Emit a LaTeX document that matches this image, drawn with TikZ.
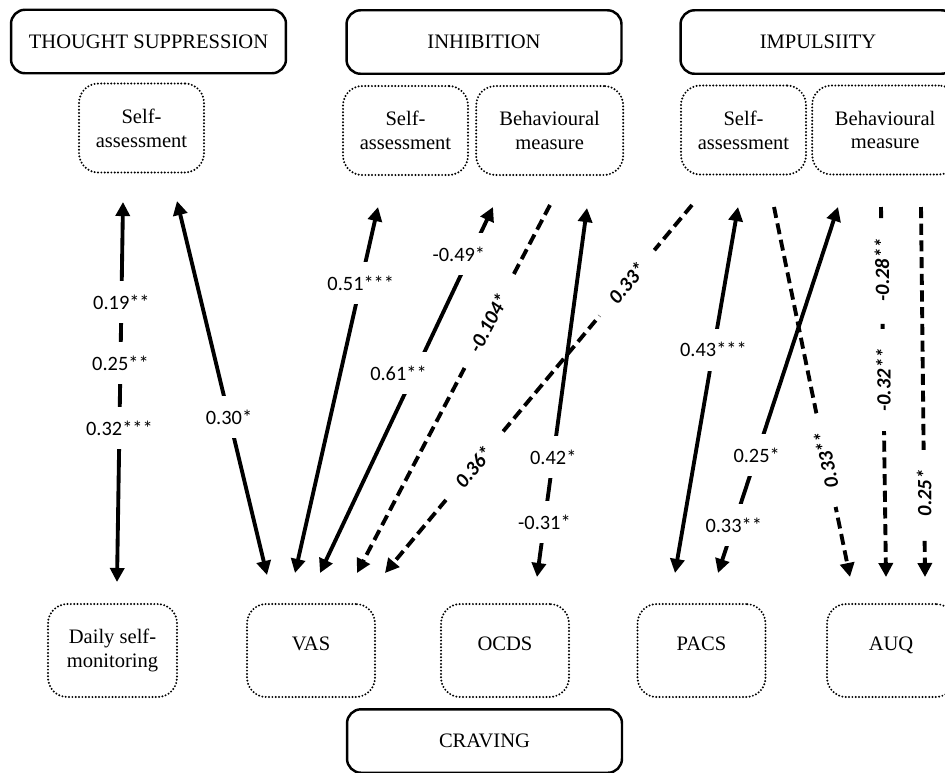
\documentclass[tikz,border=0pt]{standalone}
\usepackage{fontspec}
\setmainfont{Liberation Serif}
\newfontfamily\calibrifont{Carlito}
\usetikzlibrary{arrows.meta,positioning}

\newcommand\boxfont{\fontsize{11.7}{13.5}\selectfont}
\newcommand\coeffont{\calibrifont\fontsize{11.6}{13}\selectfont}

\tikzset{
    construct/.style={draw,line width=1.4pt,rounded corners=8pt,minimum width=5.5cm,minimum height=1.27cm,font=\boxfont},
    measure/.style={draw,line width=1.25pt,line cap=round,dash pattern=on 0pt off 1.9pt,rounded corners=11pt,minimum width=2.5cm,minimum height=1.78cm,align=center,font=\boxfont},
    scale box/.style={measure,minimum width=2.56cm,minimum height=1.86cm,text height=0.7em,text depth=0.75em},
    link/.style={line width=2.2pt,>={Triangle[length=8pt,width=8pt]}},
    dashlink/.style={link,dash pattern=on 6.3pt off 3.2pt},
    coef/.style={fill=white,inner xsep=5pt,minimum height=24pt,font=\coeffont},
    bcoef/.style={fill=white,inner xsep=11pt,inner ysep=3pt,font=\coeffont\bfseries\itshape}
}

\begin{document}
\begin{tikzpicture}[x=0.02cm,y=-0.02cm]

\useasboundingbox (0,0) rectangle (945,772);
\clip (0,0) rectangle (945,772);

\node (ts) [construct] at (148.5,41.5) {THOUGHT SUPPRESSION};
\node (inh) [construct] at (484,42) {INHIBITION};
\node (imp) [construct] at (818,42) {IMPULSIITY};
\node (crav) [construct] at (484.5,741) {CRAVING};

\node (tsself) [measure] at (141.5,128) {Self-\\assessment};
\node (inhself) [measure] at (405.5,130.5) {Self-\\assessment};
\node (inhbeh) [measure,minimum width=2.94cm,right=0.12cm of inhself] {Behavioural\\measure};
\node (impself) [measure] at (743.5,130) {Self-\\assessment};
\node (impbeh) [measure,minimum width=2.92cm,right=0.08cm of impself] {Behavioural\\measure};

\node (daily) [measure,minimum width=2.58cm,minimum height=1.86cm] at (112.5,650.5) {Daily self-\\monitoring};
\node (vas) [scale box] at (311,650.5) {VAS};
\node (ocds) [scale box] at (505,650.5) {OCDS};
\node (pacs) [scale box] at (701.5,650.5) {PACS};
\node (auq) [scale box] at (891,650.5) {AUQ};

% arrow ends, top row then bottom row
\coordinate (t1) at (123,202);  \coordinate (b1) at (117,582);
\coordinate (t2) at (177,201);  \coordinate (b2) at (267,575);
\coordinate (t3) at (378,207);  \coordinate (b3) at (295,573);
\coordinate (t4) at (493,207);  \coordinate (b4) at (320,573);
\coordinate (t5) at (550,205);  \coordinate (b5) at (357,573);
\coordinate (t6) at (692,205);  \coordinate (b6) at (385,573);
\coordinate (t7) at (587,208);  \coordinate (b7) at (537,577);
\coordinate (t8) at (738,207);  \coordinate (b8) at (675,573);
\coordinate (t9) at (838,207);  \coordinate (b9) at (718,573);
\coordinate (t10) at (774,207); \coordinate (b10) at (850,577);
\coordinate (t11) at (881,207); \coordinate (b11) at (886,577);
\coordinate (t12) at (921,207); \coordinate (b12) at (925,577);

\draw [link,<->] (t1) -- node [coef,pos=0.263] {0.19**} node [coef,pos=0.424] {0.25**} node [coef,pos=0.595] {0.32***} (b1);
\draw [link,<->] (t2) -- node [coef,pos=0.578] {0.30*} (b2);
\draw [link,<->] (t3) -- node [coef,pos=0.208] {0.51***} (b3);
\draw [link,<->] (t4) -- node [coef,pos=0.128,xshift=-0.24cm] {-0.49*} node [coef,pos=0.454,xshift=-0.32cm] {0.61**} (b4);
\draw [dashlink,->] (t5) -- node [bcoef,sloped,pos=0.32] {-0.104*} (b5);
\draw [dashlink,->] (t6) -- node [bcoef,sloped,pos=0.212] {0.33*} node [bcoef,sloped,pos=0.712] {0.36*} (b6);
\draw [link,<->] (t7) -- node [coef,pos=0.675] {0.42*} node [coef,pos=0.851] {-0.31*} (b7);
\draw [link,<->] (t8) -- node [coef,pos=0.39] {0.43***} (b8);
\draw [link,<->] (t9) -- node [coef,pos=0.678] {0.25*} node [coef,pos=0.869] {0.33**} (b9);
\draw [dashlink,->] (t10) -- node [bcoef,rotate=102,pos=0.684] {0.33**} (b10);
\draw [dashlink,->] (t11) -- node [bcoef,rotate=90,pos=0.17] {-0.28**} node [bcoef,rotate=90,pos=0.468] {-0.32**} (b11);
\draw [dashlink,->] (t12) -- node [bcoef,rotate=90,pos=0.773] {0.25*} (b12);

\end{tikzpicture}
\end{document}
